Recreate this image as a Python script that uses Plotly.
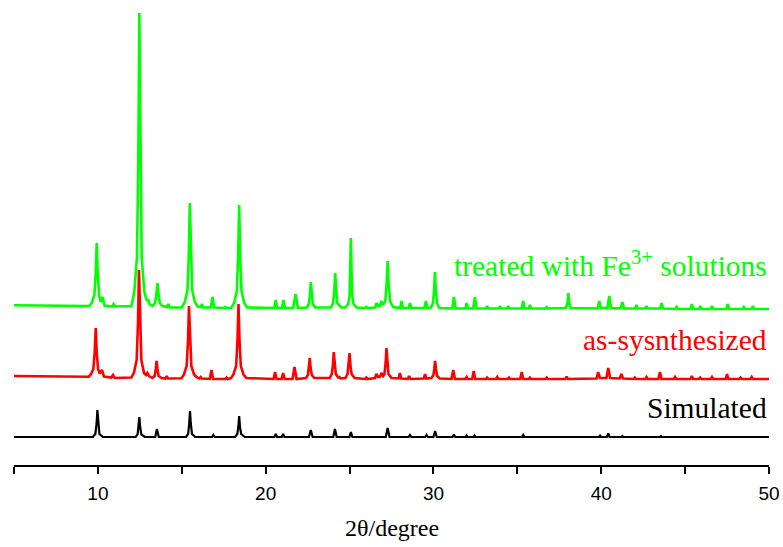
import plotly.graph_objects as go

# 2-theta (degree) / intensity (a.u.) vertices
SIMULATED = [
    (5.0, 0),
    (9.7, 0), (9.85, 3), (9.92, 13), (9.97, 27), (10.02, 13), (10.09, 3), (10.3, 0),
    (12.25, 0), (12.37, 3), (12.42, 10), (12.47, 20), (12.52, 10), (12.59, 2.5), (12.8, 0),
    (13.42, 0), (13.52, 8), (13.63, 0),
    (15.25, 0), (15.38, 3), (15.44, 13), (15.49, 26), (15.54, 13), (15.61, 3), (15.8, 0),
    (16.8, 0), (16.88, 2), (16.96, 0),
    (18.18, 0), (18.31, 3), (18.37, 10), (18.42, 21), (18.47, 10), (18.54, 3), (18.75, 0),
    (20.52, 0), (20.6, 3), (20.68, 0),
    (20.96, 0), (21.04, 3), (21.12, 0),
    (22.58, 0), (22.69, 7), (22.8, 0),
    (24.03, 0), (24.13, 8), (24.23, 0),
    (24.99, 0), (25.08, 5), (25.17, 0),
    (27.16, 0), (27.27, 9), (27.38, 0),
    (28.52, 0), (28.6, 2), (28.68, 0),
    (29.51, 0), (29.59, 2), (29.67, 0),
    (30.0, 0), (30.1, 6), (30.2, 0),
    (31.14, 0), (31.22, 2.5), (31.3, 0),
    (31.92, 0), (31.98, 1.5), (32.04, 0),
    (32.39, 0), (32.45, 1.5), (32.51, 0),
    (35.28, 0), (35.35, 2), (35.42, 0),
    (39.86, 0), (39.93, 1.5), (40.0, 0),
    (40.34, 0), (40.42, 3.5), (40.5, 0),
    (41.2, 0), (41.26, 1), (41.32, 0),
    (43.5, 0), (43.56, 1), (43.62, 0),
    (50.0, 0),
]

AS_SYNTHESIZED = [
    (5.0, 3.0),
    (9.45, 2.3), (9.58, 4.5), (9.73, 10), (9.81, 27), (9.87, 51), (9.93, 27), (10.01, 10),
    (10.11, 5.5), (10.25, 9), (10.36, 2.5),
    (10.8, 1.5), (10.9, 4), (11.0, 1),
    (12.0, 1.5), (12.15, 6.5), (12.31, 19), (12.39, 56), (12.45, 109), (12.51, 56),
    (12.59, 19), (12.75, 6), (12.87, 4), (12.95, 6), (13.05, 3),
    (13.25, 1), (13.38, 3), (13.45, 10), (13.5, 18), (13.55, 10), (13.62, 3), (13.8, 1),
    (14.02, 0.5), (14.1, 3), (14.18, 0.5),
    (14.98, 0.8), (15.13, 4.5), (15.29, 13), (15.37, 38), (15.43, 73), (15.49, 38),
    (15.57, 13), (15.73, 4.5), (15.9, 1.5),
    (16.06, 0.5), (16.13, 2), (16.2, 0.5),
    (16.67, 0), (16.77, 9), (16.87, 0),
    (17.6, 0), (17.67, 1.5), (17.74, 0),
    (17.93, 0.8), (18.08, 4.5), (18.24, 13), (18.32, 39), (18.38, 75), (18.44, 39),
    (18.52, 13), (18.68, 4.5), (18.85, 1),
    (20.47, 0), (20.56, 7), (20.65, 0),
    (20.95, 0), (21.04, 6), (21.13, 0),
    (21.6, 0), (21.72, 12), (21.84, 0),
    (22.4, 1), (22.52, 4), (22.58, 11), (22.63, 21), (22.68, 11), (22.75, 4), (22.9, 1),
    (23.82, 1), (23.94, 5), (24.01, 14), (24.06, 27), (24.11, 14), (24.18, 5), (24.32, 1.5),
    (24.4, 2), (24.47, 0.5),
    (24.76, 1), (24.88, 5), (24.95, 14), (25.0, 26), (25.05, 14), (25.12, 5), (25.3, 1),
    (25.93, 0), (26.0, 1.5), (26.07, 0),
    (26.52, 1), (26.6, 5), (26.7, 2),
    (26.8, 2), (26.9, 6), (27.0, 3),
    (27.08, 5), (27.15, 16), (27.2, 31), (27.25, 16), (27.32, 5), (27.5, 1),
    (27.92, 0.5), (28.0, 6), (28.08, 0.5),
    (28.47, 0), (28.55, 3), (28.63, 0),
    (29.42, 0.5), (29.5, 5), (29.58, 0.5),
    (29.88, 1), (30.0, 4), (30.05, 10), (30.1, 18), (30.15, 10), (30.22, 3), (30.38, 0.5),
    (31.08, 0), (31.18, 9), (31.28, 0),
    (31.91, 0), (31.98, 2), (32.05, 0),
    (32.31, 0), (32.4, 8), (32.49, 0),
    (33.13, 0), (33.2, 1.5), (33.27, 0),
    (33.73, 0), (33.8, 2), (33.87, 0),
    (34.43, 0), (34.5, 1.5), (34.57, 0),
    (35.17, 0), (35.26, 7), (35.35, 0),
    (35.68, 0), (35.75, 1.5), (35.82, 0),
    (36.68, 0), (36.75, 1.5), (36.82, 0),
    (37.86, 0), (37.94, 2.5), (38.02, 0),
    (39.72, 0.5), (39.82, 7), (39.92, 1),
    (40.31, 1), (40.42, 11), (40.53, 1),
    (41.1, 0.5), (41.2, 5), (41.3, 0.5),
    (41.93, 0), (42.0, 1.5), (42.07, 0),
    (42.63, 0), (42.7, 2), (42.77, 0),
    (43.41, 0), (43.5, 7), (43.59, 0),
    (44.33, 0), (44.4, 2), (44.47, 0),
    (45.32, 0), (45.4, 3), (45.48, 0),
    (45.83, 0), (45.9, 1.5), (45.97, 0),
    (46.53, 0), (46.6, 2), (46.67, 0),
    (47.42, 0), (47.5, 5), (47.58, 0),
    (48.23, 0), (48.3, 1.5), (48.37, 0),
    (48.9, 0), (48.97, 2), (49.04, 0),
    (50.0, 0),
]

FE_TREATED = [
    (5.0, 3.7),
    (9.5, 3), (9.63, 6), (9.79, 14), (9.87, 36), (9.93, 66), (9.99, 36), (10.07, 14),
    (10.17, 7), (10.28, 12), (10.4, 3.5),
    (10.85, 2.5), (10.94, 5), (11.03, 2.5),
    (12.0, 3), (12.17, 17), (12.33, 52), (12.41, 150), (12.47, 296), (12.53, 150),
    (12.61, 52), (12.77, 17), (12.92, 8), (12.99, 10), (13.07, 5),
    (13.25, 3), (13.41, 6), (13.49, 15), (13.55, 26), (13.61, 15), (13.69, 6), (13.85, 3),
    (14.12, 2), (14.2, 5), (14.28, 1.5),
    (15.0, 1.5), (15.18, 7), (15.34, 19), (15.42, 55), (15.48, 106), (15.54, 55),
    (15.62, 19), (15.78, 7), (15.95, 2.5),
    (16.13, 2), (16.2, 5), (16.27, 1.5),
    (16.73, 1.5), (16.83, 12), (16.93, 1.5),
    (17.53, 1), (17.6, 2), (17.67, 1),
    (17.95, 1.2), (18.12, 6), (18.28, 18), (18.36, 53), (18.42, 104), (18.48, 53),
    (18.56, 18), (18.72, 6), (18.9, 1.5),
    (20.51, 1), (20.6, 9), (20.69, 1),
    (20.97, 1), (21.06, 9), (21.15, 1),
    (21.64, 1), (21.78, 15), (21.92, 1),
    (22.45, 1.5), (22.57, 5), (22.64, 14), (22.69, 27), (22.74, 14), (22.81, 5), (22.95, 1.5),
    (23.9, 1.5), (24.02, 6), (24.09, 18), (24.14, 36), (24.19, 18), (24.26, 6),
    (24.4, 3.5), (24.5, 1.5),
    (24.75, 1.5), (24.92, 5), (25.0, 13), (25.04, 36), (25.08, 71), (25.12, 36),
    (25.16, 13), (25.24, 5), (25.42, 1.5),
    (25.93, 1), (26.0, 2), (26.07, 1),
    (26.52, 1.5), (26.6, 6), (26.7, 3),
    (26.8, 3), (26.9, 8), (27.0, 4),
    (27.13, 8), (27.21, 25), (27.27, 48), (27.33, 25), (27.41, 8), (27.6, 2),
    (28.02, 1), (28.1, 8), (28.18, 1),
    (28.52, 1), (28.6, 6), (28.68, 1),
    (29.46, 1), (29.55, 8), (29.64, 1),
    (29.85, 1.5), (29.97, 6), (30.04, 19), (30.09, 37), (30.14, 19), (30.21, 6), (30.35, 1),
    (31.12, 0.5), (31.22, 12), (31.32, 0.5),
    (31.91, 0.5), (31.98, 6), (32.05, 0.5),
    (32.37, 0.5), (32.47, 12), (32.57, 0.5),
    (33.13, 0.5), (33.2, 3), (33.27, 0.5),
    (33.89, 0.5), (33.96, 3), (34.03, 0.5),
    (34.39, 0.5), (34.46, 3), (34.53, 0.5),
    (35.26, 0.5), (35.35, 8), (35.44, 0.5),
    (35.68, 0.5), (35.75, 4), (35.82, 0.5),
    (36.68, 0.5), (36.75, 2), (36.82, 0.5),
    (37.9, 1), (37.99, 6), (38.04, 16), (38.09, 6), (38.18, 1),
    (39.78, 0.5), (39.88, 8), (39.98, 1),
    (40.37, 1), (40.48, 13), (40.59, 1),
    (41.16, 0.5), (41.26, 7), (41.36, 0.5),
    (42.03, 0.5), (42.1, 4), (42.17, 0.5),
    (42.63, 0.5), (42.7, 3), (42.77, 0.5),
    (43.51, 0.5), (43.6, 6), (43.69, 0.5),
    (44.43, 0), (44.5, 2), (44.57, 0),
    (45.32, 0), (45.4, 5), (45.48, 0),
    (45.83, 0), (45.9, 3), (45.97, 0),
    (46.53, 0), (46.6, 3), (46.67, 0),
    (47.46, 0), (47.54, 5), (47.62, 0),
    (48.43, 0), (48.5, 2), (48.57, 0),
    (48.97, 0), (49.04, 3), (49.11, 0),
    (50.0, 0),
]

LABELS = ["Simulated", "as-sysnthesized", "treated with Fe<sup>3+</sup> solutions"]
OFFSETS = [28, 86, 156]
LABEL_Y = [57, 125, 201]
COLORS = ["#000000", "#ff0000", "#00ff00"]
WIDTHS = [2.2, 2.6, 2.6]
TICKS = [10, 20, 30, 40, 50]
MINOR_TICKS = [5, 15, 25, 35, 45]

fig = go.Figure()
for prof, off, col, w in zip([SIMULATED, AS_SYNTHESIZED, FE_TREATED], OFFSETS, COLORS, WIDTHS):
    xs = [p[0] for p in prof]
    ys = [p[1] + off for p in prof]
    fig.add_trace(go.Scatter(x=xs, y=ys, mode="lines",
                             line=dict(color=col, width=w), hoverinfo="skip",
                             showlegend=False))

for txt, yy, col in zip(LABELS, LABEL_Y, COLORS):
    fig.add_annotation(x=50, y=yy, xref="x", yref="y", text=txt, showarrow=False,
                       xanchor="right", yanchor="middle",
                       font=dict(family="Liberation Serif, Times New Roman, serif",
                                 size=29.5, color=col))

fig.add_annotation(x=0.5, y=-0.136, xref="paper", yref="paper", text="2θ/degree",
                   showarrow=False, xanchor="center", yanchor="middle",
                   font=dict(family="Liberation Serif, Times New Roman, serif",
                             size=24, color="#000000"))

fig.update_layout(
    width=783, height=547,
    margin=dict(l=14, r=14, t=0, b=82),
    paper_bgcolor="white", plot_bgcolor="white",
    xaxis=dict(range=[5, 50], tickvals=TICKS, ticks="outside", ticklen=7,
               tickwidth=2, tickcolor="black", showline=True, linecolor="black",
               linewidth=2, showgrid=False, zeroline=False, ticklabelstandoff=3,
               tickfont=dict(family="Liberation Sans, Arial, sans-serif", size=19,
                             color="black"),
               minor=dict(tickvals=MINOR_TICKS, ticks="outside", ticklen=7,
                          tickwidth=2, tickcolor="black")),
    yaxis=dict(range=[0, 465], visible=False, showgrid=False, zeroline=False),
)

fig.write_html("out.html")
